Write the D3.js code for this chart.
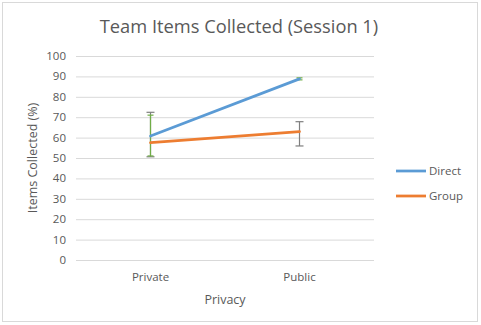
<!DOCTYPE html>
<html>
<head>
<meta charset="utf-8">
<script src="https://cdn.jsdelivr.net/npm/d3@7"></script>
<style>
  body { margin: 0; background: #fff; }
  text { font-family: "Open Sans", "Noto Sans", sans-serif; fill: #595959; }
</style>
</head>
<body>
<svg id="canvas" width="481" height="325"></svg>
<script>
// chart data
let categories = ['Private', 'Public']
let seriesNames = ['Direct', 'Group']
let directValues = [60.8, 88.8]
let groupValues = [57.5, 62.9]
// error bars [low, high]
let directErrors = [[51, 71], [88.3, 89.3]]
let groupErrors = [[50.6, 72.4], [55.9, 67.8]]
let yTicks = [0, 10, 20, 30, 40, 50, 60, 70, 80, 90, 100]

let colors = { Direct: '#5b9bd5', Group: '#ed7d31' }
let errColors = { Direct: '#70ad47', Group: '#7f7f7f' }

let canvas = d3.select('#canvas')

// outer border
canvas.append('rect')
  .attr('x', 2.5).attr('y', 2.5)
  .attr('width', 475).attr('height', 319)
  .attr('fill', '#fff').attr('stroke', '#d9d9d9')

let margin = { left: 76, right: 374, top: 56, bottom: 260 }

let x = d3.scaleBand()
  .domain(categories)
  .range([margin.left, margin.right])

let y = d3.scaleLinear()
  .domain([0, 100])
  .range([margin.bottom, margin.top])

// gridlines
canvas.append('g')
  .selectAll('line')
  .data(yTicks)
  .enter()
  .append('line')
  .attr('x1', margin.left)
  .attr('x2', margin.right)
  .attr('y1', d => y(d) + 0.5)
  .attr('y2', d => y(d) + 0.5)
  .attr('stroke', '#d9d9d9')
  .attr('stroke-width', 1)

// y tick labels
canvas.append('g')
  .selectAll('text')
  .data(yTicks)
  .enter()
  .append('text')
  .attr('x', 66)
  .attr('y', d => y(d))
  .attr('dy', '0.35em')
  .attr('text-anchor', 'end')
  .attr('font-size', 11.5)
  .text(d => d)

// x tick labels
canvas.append('g')
  .selectAll('text')
  .data(categories)
  .enter()
  .append('text')
  .attr('x', d => x(d) + x.bandwidth() / 2)
  .attr('y', 281)
  .attr('text-anchor', 'middle')
  .attr('font-size', 11.5)
  .text(d => d)

// axis titles
canvas.append('text')
  .attr('x', 225)
  .attr('y', 304)
  .attr('text-anchor', 'middle')
  .attr('font-size', 12.5)
  .text('Privacy')

canvas.append('text')
  .attr('transform', 'translate(37,158) rotate(-90)')
  .attr('text-anchor', 'middle')
  .attr('font-size', 12.5)
  .text('Items Collected (%)')

// title
canvas.append('text')
  .attr('x', 239)
  .attr('y', 33)
  .attr('text-anchor', 'middle')
  .attr('font-size', 18.3)
  .text('Team Items Collected (Session 1)')

let series = [
  { name: 'Direct', values: directValues, errors: directErrors },
  { name: 'Group', values: groupValues, errors: groupErrors }
]

let line = d3.line()
  .x((d, i) => x(categories[i]) + x.bandwidth() / 2)
  .y(d => y(d))

// error bars: vertical stem plus caps
let drawErrors = (s, capW) => {
  let g = canvas.append('g')
  s.errors.forEach((e, i) => {
    let cx = x(categories[i]) + x.bandwidth() / 2
    g.append('line')
      .attr('x1', cx).attr('x2', cx)
      .attr('y1', y(e[0])).attr('y2', y(e[1]))
      .attr('stroke', errColors[s.name]).attr('stroke-width', 1.2)
    e.forEach(v => {
      g.append('line')
        .attr('x1', cx - capW).attr('x2', cx + capW)
        .attr('y1', y(v)).attr('y2', y(v))
        .attr('stroke', errColors[s.name]).attr('stroke-width', 1.2)
    })
  })
}

drawErrors(series[1], 4)
drawErrors(series[0], 3)

series.forEach(s => {
  canvas.append('path')
    .datum(s.values)
    .attr('d', line)
    .attr('fill', 'none')
    .attr('stroke', colors[s.name])
    .attr('stroke-width', 2.75)
    .attr('stroke-linecap', 'round')
})

// legend
let legend = canvas.append('g')
  .selectAll('g')
  .data(seriesNames)
  .enter()
  .append('g')
  .attr('transform', (d, i) => 'translate(396,' + (171 + i * 25) + ')')

legend.append('line')
  .attr('x1', 0).attr('x2', 30)
  .attr('stroke', d => colors[d])
  .attr('stroke-width', 2.75)

legend.append('text')
  .attr('x', 33)
  .attr('dy', '0.35em')
  .attr('font-size', 11.5)
  .text(d => d)
</script>
</body>
</html>
